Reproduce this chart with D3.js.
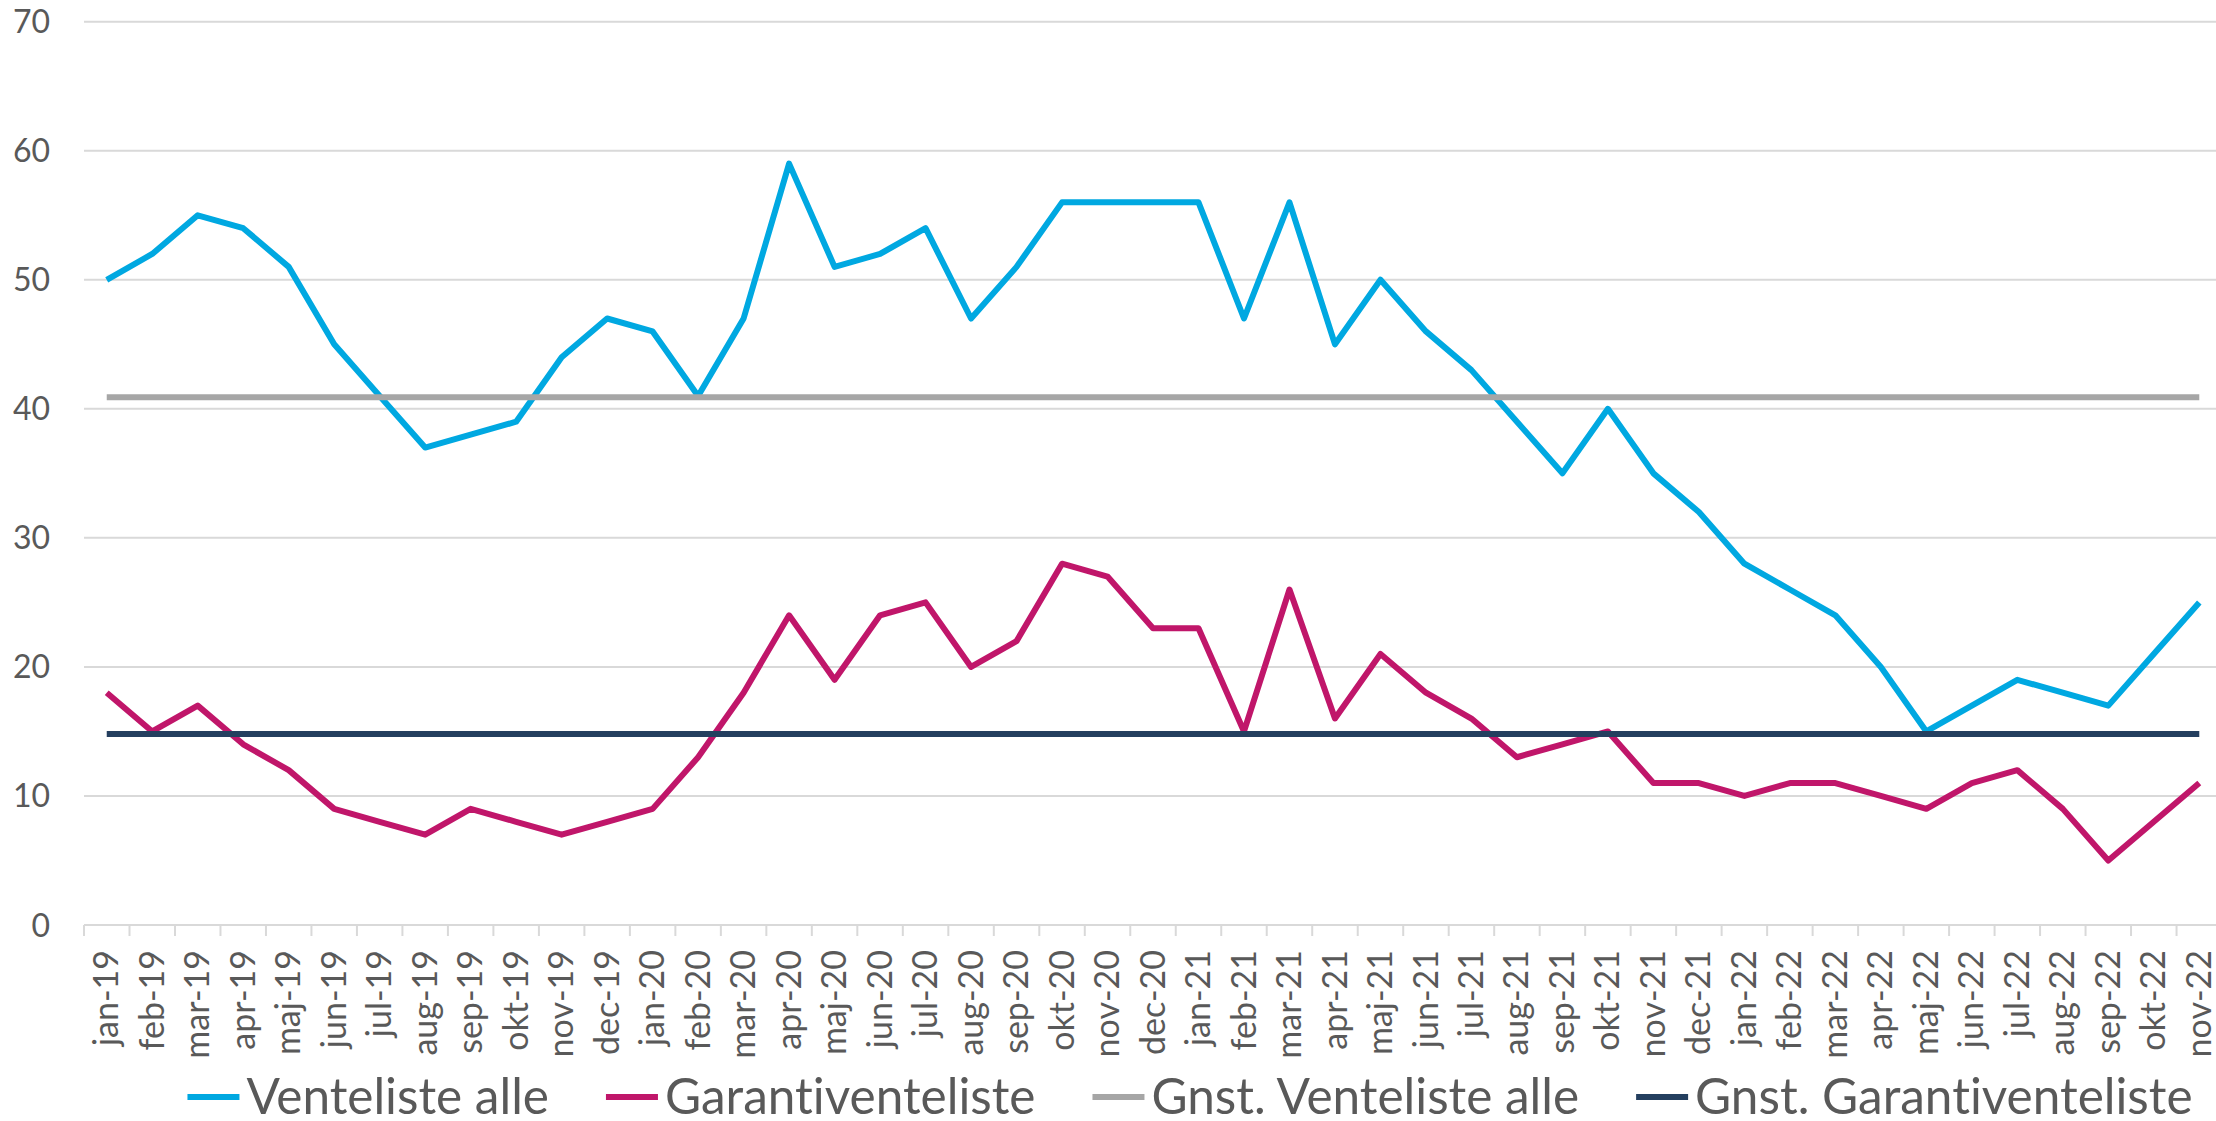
<!DOCTYPE html>
<meta charset="utf-8">
<style>
body { margin: 0; background: #fff; }
svg { display: block; font-family: Lato, "Open Sans", sans-serif; font-variant-ligatures: none; }
.grid line { stroke: #d9d9d9; stroke-width: 2; }
.ylab { fill: #595959; font-size: 32px; }
.xlab { fill: #595959; font-size: 34px; }
.leg { fill: #595959; font-size: 49.5px; }
</style>
<svg width="2216" height="1121"></svg>
<script src="https://d3js.org/d3.v7.min.js"></script>
<script>
// data
var months = ["jan-19","feb-19","mar-19","apr-19","maj-19","jun-19","jul-19","aug-19","sep-19","okt-19","nov-19","dec-19",
              "jan-20","feb-20","mar-20","apr-20","maj-20","jun-20","jul-20","aug-20","sep-20","okt-20","nov-20","dec-20",
              "jan-21","feb-21","mar-21","apr-21","maj-21","jun-21","jul-21","aug-21","sep-21","okt-21","nov-21","dec-21",
              "jan-22","feb-22","mar-22","apr-22","maj-22","jun-22","jul-22","aug-22","sep-22","okt-22","nov-22"];
var ventelisteAlle = [50,52,55,54,51,45,41,37,38,39,44,47,
                      46,41,47,59,51,52,54,47,51,56,56,56,
                      56,47,56,45,50,46,43,39,35,40,35,32,
                      28,26,24,20,15,17,19,18,17,21,25];
var garantiventeliste = [18,15,17,14,12,9,8,7,9,8,7,8,
                         9,13,18,24,19,24,25,20,22,28,27,23,
                         23,15,26,16,21,18,16,13,14,15,11,11,
                         10,11,11,10,9,11,12,9,5,8,11];
var gnstVentelisteAlle = 40.9;
var gnstGaranti = 14.8;
var yTicks = [0,10,20,30,40,50,60,70];
var seriesNames = ["Venteliste alle","Garantiventeliste","Gnst. Venteliste alle","Gnst. Garantiventeliste"];
var seriesColors = ["#00a8e1","#c0166a","#a6a6a6","#243f5f"];

var svg = d3.select("svg"),
    margin = {top: 21.7, left: 84},
    bandW = 45.49,
    width = bandW * months.length,
    height = 925 - margin.top;

var x = d3.scaleBand().domain(months).range([0, width]).padding(0),
    y = d3.scaleLinear().domain([0, 70]).range([height, 0]);

var g = svg.append("g")
    .attr("transform", "translate(" + margin.left + "," + margin.top + ")");

// gridlines
g.append("g").attr("class", "grid")
    .selectAll("line")
    .data(yTicks.filter(function(d){ return d > 0; }))
    .enter().append("line")
        .attr("x1", 0).attr("x2", width)
        .attr("y1", function(d){ return y(d); })
        .attr("y2", function(d){ return y(d); });

// y labels
g.selectAll(".ylab")
    .data(yTicks)
    .enter().append("text")
        .attr("class", "ylab")
        .attr("x", -34)
        .attr("y", function(d){ return y(d); })
        .attr("dy", "0.36em")
        .attr("text-anchor", "end")
        .text(function(d){ return d; });

// x axis: line, ticks between categories, rotated labels
var xa = g.append("g").attr("class", "grid")
    .attr("transform", "translate(0," + height + ")");
xa.append("line").attr("x1", 0).attr("x2", width).attr("y1", 0).attr("y2", 0);
xa.selectAll(".tick")
    .data(months.concat(["end"]))
    .enter().append("line")
        .attr("class", "tick")
        .attr("x1", function(d){ return d === "end" ? width : x(d); })
        .attr("x2", function(d){ return d === "end" ? width : x(d); })
        .attr("y1", 0).attr("y2", 11);
xa.selectAll(".xlab")
    .data(months)
    .enter().append("text")
        .attr("class", "xlab")
        .attr("transform", function(d){
            return "translate(" + (x(d) + x.bandwidth() / 2) + ",25) rotate(-90)";
        })
        .attr("dy", "0.34em")
        .attr("text-anchor", "end")
        .text(function(d){ return d; });

// series
var cx = function(d, i){ return x(months[i]) + x.bandwidth() / 2; };
var line = d3.line().x(cx).y(function(d){ return y(d); });
var avgLine = function(v){ return months.map(function(){ return v; }); };
var seriesData = [ventelisteAlle, garantiventeliste, avgLine(gnstVentelisteAlle), avgLine(gnstGaranti)];

g.selectAll(".series")
    .data(seriesData)
    .enter().append("path")
        .attr("class", "series")
        .attr("fill", "none")
        .attr("stroke", function(d, i){ return seriesColors[i]; })
        .attr("stroke-width", 6)
        .attr("stroke-linejoin", "round")
        .attr("d", line);

// legend, centred under the chart
var leg = svg.append("g").attr("transform", "translate(0,1114)");
var items = leg.selectAll("g")
    .data(seriesNames)
    .enter().append("g");
items.append("text")
    .attr("class", "leg")
    .attr("x", 59)
    .text(function(d){ return d; });
items.append("line")
    .attr("x1", 0).attr("x2", 52)
    .attr("y1", -17).attr("y2", -17)
    .attr("stroke-width", 6)
    .attr("stroke", function(d, i){ return seriesColors[i]; });
var widths = [];
items.select("text").each(function(){ widths.push(59 + this.getComputedTextLength()); });
var total = d3.sum(widths) + 57 * (widths.length - 1);
var pos = 1190 - total / 2;
items.attr("transform", function(d, i){
    var p = pos;
    pos += widths[i] + 57;
    return "translate(" + p + ",0)";
});
</script>
